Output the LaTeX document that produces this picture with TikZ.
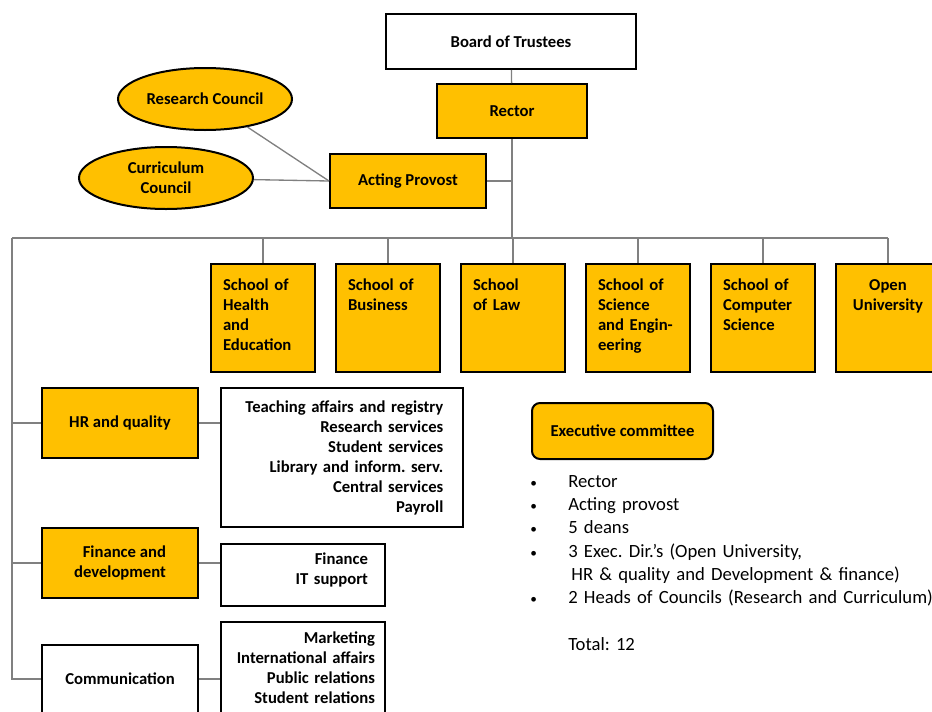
\documentclass[tikz,border=0pt]{standalone}
\usepackage{fontspec}
\setmainfont{Carlito}
\usetikzlibrary{positioning,shapes.geometric}
\definecolor{gold}{HTML}{FFC000}
\frenchspacing

\begin{document}
\begin{tikzpicture}[x=0.75pt,y=-0.75pt,
  font=\fontsize{12.5}{15}\selectfont\bfseries]

  \tikzstyle{box}=[draw=black,line width=1.5pt,minimum height=40.5pt,align=center]
  \tikzstyle{goldbox}=[box,fill=gold]
  \tikzstyle{council}=[ellipse,draw=black,line width=1.5pt,fill=gold,minimum width=130.5pt,minimum height=46.5pt,inner sep=0pt,align=center]
  \tikzstyle{school}=[draw=black,line width=2pt,fill=gold,minimum width=78pt,minimum height=81pt,text width=60pt,align=left,text height=8pt,text depth=50pt]
  \tikzstyle{detail}=[draw=black,line width=1.5pt,fill=white,inner xsep=0pt,align=right]
  \tikzstyle{link}=[draw=black!50,line width=1pt]

  \newcommand{\bul}{\makebox[28.5pt][l]{\fontsize{10}{10}\selectfont\textbullet}}

  \useasboundingbox (0,0) rectangle (932,711);
  \clip (0,0) rectangle (932,711);

  % top of the tree
  \node (board) [box,minimum width=187.5pt,minimum height=41.25pt] at (511,41.5) {Board of Trustees};
  \node (rector) [goldbox,minimum width=112.5pt] at (512,111) {Rector};
  \node (provost) [goldbox,minimum width=117pt] at (408,181) {Acting Provost};
  \node (research) [council] at (205,99) {\makebox[0pt]{Research Council}};
  \node (curriculum) [council] at (166,178) {Curriculum\\Council};

  \coordinate (busL) at (12,238);

  % schools
  \node (hes) [school] at (263,318) {School of\\Health\\and\\Education};
  \node (bsn) [school,right=13.75pt of hes] {School of\\Business};
  \node (law) [school,right=13.75pt of bsn] {School\\of Law};
  \node (sce) [school,right=13.75pt of law] {School of\\Science\\and Engin-\\eering};
  \node (csc) [school,right=13.75pt of sce] {School of\\Computer\\Science};
  \node (ou) [school,right=13.75pt of csc,align=center] {Open\\University};

  % directorates
  \node (hrq) [goldbox,minimum width=117pt,minimum height=52.5pt] at (120,423) {HR and quality};
  \node (hrunits) [detail,text width=152pt,minimum width=181.5pt,minimum height=104.25pt] at (342,457.5)
    {Teaching affairs and registry\\Research services\\Student services\\Library and inform. serv.\\Central services\\Payroll};

  \node (fin) [goldbox,minimum width=117pt,minimum height=52.5pt,align=right] at (120,563) {Finance and\\development};
  \node (finunits) [detail,text width=97.5pt,text depth=24pt,minimum width=123pt,minimum height=46.5pt] at (303,575) {Finance\\IT support};

  \node (comm) [box,minimum width=117pt,minimum height=51pt] at (120,679) {Communication};
  \node (comunits) [detail,text width=108pt,minimum width=123pt,minimum height=68.25pt] at (303,667.5)
    {Marketing\\International affairs\\Public relations\\Student relations};

  % executive committee
  \node (exec) [goldbox,rounded corners=6pt,minimum width=135.75pt,minimum height=42pt] at (622.5,431) {Executive committee};
  \node (members) [anchor=base west,inner sep=0pt,text width=320pt,align=left,
    font=\fontsize{14}{17.5}\selectfont] at (530,487)
    {\bul Rector\\
     \bul Acting provost\\
     \bul 5 deans\\
     \bul 3 Exec. Dir.’s (Open University,\\
     \makebox[28.5pt][l]{}\,HR \& quality and Development \& finance)\\
     \bul 2 Heads of Councils (Research and Curriculum)\\[17.5pt]
     \makebox[28.5pt][l]{}Total: 12};

  % connectors
  \draw [link] (board) -- (rector);
  \draw [link] (rector) -- (rector |- busL);
  \draw [link] (provost) -- (provost -| rector);
  \draw [link] (research) -- (provost.west);
  \draw [link] (curriculum) -- (provost.west);

  \draw [link] (busL) -- (busL -| ou.north);
  \foreach \s in {hes,bsn,law,sce,csc,ou}
    \draw [link] (\s) -- (\s |- busL);

  \draw [link] (busL) |- (comm);
  \draw [link] (busL |- hrq) -- (hrq);
  \draw [link] (busL |- fin) -- (fin);

  \draw [link] (hrq.east) -- (hrq.east -| hrunits.west);
  \draw [link] (fin.east) -- (fin.east -| finunits.west);
  \draw [link] (comm.east) -- (comm.east -| comunits.west);

\end{tikzpicture}
\end{document}
